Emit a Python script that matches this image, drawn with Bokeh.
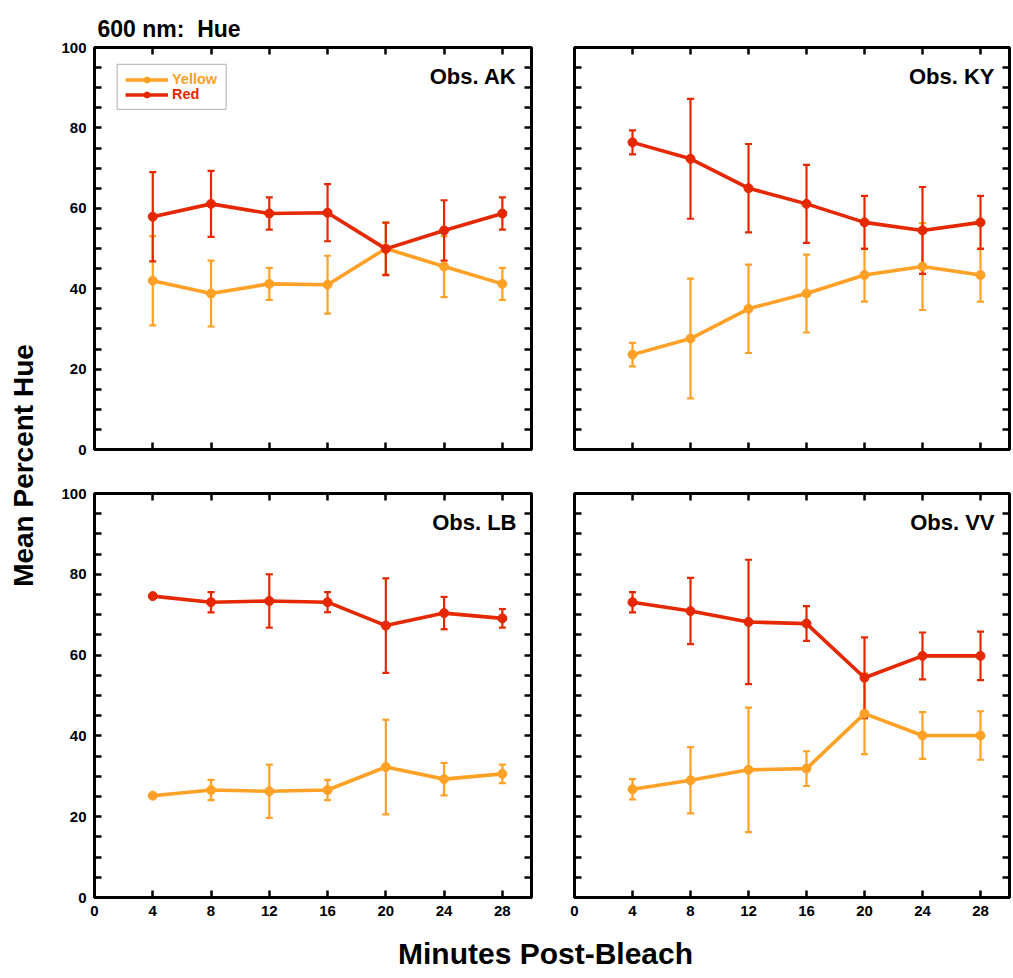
import math
from bokeh.plotting import figure
from bokeh.models import (Range1d, LinearAxis, FixedTicker, Whisker, TeeHead,
                          ColumnDataSource, Label, Legend, LegendItem, BoxAnnotation,
                          CustomLabelingPolicy)
from bokeh.layouts import row, column
from bokeh.embed import file_html
from bokeh.resources import INLINE

# ---------------- data ----------------
minutes = [4, 8, 12, 16, 20, 24, 28]
x_ticks = [0, 4, 8, 12, 16, 20, 24, 28]
y_ticks = [0, 20, 40, 60, 80, 100]
y_minor = [5, 10, 15, 25, 30, 35, 45, 50, 55, 65, 70, 75, 85, 90, 95]

ak_red = [57.9, 61.1, 58.7, 58.9, 49.9, 54.5, 58.7]
ak_red_err = [11.1, 8.2, 4.0, 7.1, 6.5, 7.5, 4.0]
ak_yellow = [42.0, 38.8, 41.2, 41.0, 50.0, 45.5, 41.2]
ak_yellow_err = [11.1, 8.2, 4.0, 7.2, 6.5, 7.6, 4.0]

ky_red = [76.4, 72.3, 65.0, 61.1, 56.5, 54.5, 56.5]
ky_red_err = [3.0, 14.9, 11.0, 9.7, 6.6, 10.8, 6.6]
ky_yellow = [23.6, 27.6, 35.0, 38.8, 43.4, 45.5, 43.4]
ky_yellow_err = [2.9, 14.9, 11.0, 9.7, 6.6, 10.8, 6.6]

lb_red = [74.6, 73.1, 73.4, 73.1, 67.3, 70.4, 69.1]
lb_red_err = [0.0, 2.5, 6.6, 2.5, 11.7, 4.0, 2.3]
lb_yellow = [25.2, 26.6, 26.3, 26.6, 32.3, 29.3, 30.6]
lb_yellow_err = [0.0, 2.5, 6.6, 2.5, 11.7, 4.0, 2.3]

vv_red = [73.1, 70.9, 68.2, 67.8, 54.4, 59.8, 59.8]
vv_red_err = [2.5, 8.2, 15.4, 4.3, 10.0, 5.8, 6.0]
vv_yellow = [26.8, 29.0, 31.6, 31.9, 45.5, 40.1, 40.1]
vv_yellow_err = [2.5, 8.2, 15.4, 4.3, 10.0, 5.8, 6.0]

series_names = ["Yellow", "Red"]
panel_titles = ["Obs. AK", "Obs. KY", "Obs. LB", "Obs. VV"]
main_title = "600 nm:\u00a0 Hue"
x_label = "Minutes Post-Bleach"
y_label = "Mean Percent Hue"

# ---------------- style ----------------
YELLOW = "#FFA126"
RED = "#E52800"
FONT = "Liberation Sans"

HIDE_ALL = "for (const i of indices) { indices.unset(i) }\nreturn indices"


def style_axis(ax, show_labels):
    ax.axis_line_color = "black"
    ax.axis_line_width = 3
    ax.major_tick_in = 7
    ax.major_tick_out = 0
    ax.major_tick_line_width = 2.5
    ax.minor_tick_in = 7
    ax.minor_tick_out = 0
    ax.minor_tick_line_width = 2.5
    if show_labels:
        ax.major_label_text_font = FONT
        ax.major_label_text_font_style = "bold"
        ax.major_label_text_font_size = "15px"
        ax.major_label_text_color = "black"
        ax.major_label_standoff = 8
    else:
        ax.major_label_text_font_size = "0px"
        ax.major_label_standoff = 0
        ax.major_label_policy = CustomLabelingPolicy(code=HIDE_ALL)


def make_series(p, xs, ys, errs, color):
    src = ColumnDataSource(dict(x=xs, y=ys,
                                lo=[v - e for v, e in zip(ys, errs)],
                                up=[v + e for v, e in zip(ys, errs)]))
    w = Whisker(base="x", upper="up", lower="lo", source=src, dimension="height",
                line_color=color, line_width=2.2,
                upper_head=TeeHead(size=7, line_color=color, line_width=2.2),
                lower_head=TeeHead(size=7, line_color=color, line_width=2.2))
    p.add_layout(w)
    ln = p.line("x", "y", source=src, line_color=color, line_width=3.6)
    sc = p.scatter("x", "y", source=src, size=9, fill_color=color, line_color=color)
    return ln, sc


def panel(title, red, red_err, yel, yel_err, left_labels, bottom_labels,
          width, height, bl, br, bt, bb, legend=False):
    p = figure(width=width, height=height, x_range=Range1d(0, 30), y_range=Range1d(0, 100),
               output_backend="svg", toolbar_location=None,
               x_axis_location=None, y_axis_location=None,
               min_border_left=bl, min_border_right=br, min_border_top=bt, min_border_bottom=bb)
    p.grid.visible = False
    p.outline_line_color = "black"
    p.outline_line_width = 3
    p.background_fill_color = "white"
    p.border_fill_color = "white"

    for loc in ["below", "above"]:
        ax = LinearAxis(ticker=FixedTicker(ticks=x_ticks, minor_ticks=[]))
        style_axis(ax, bottom_labels and loc == "below")
        p.add_layout(ax, loc)
    for loc in ["left", "right"]:
        ax = LinearAxis(ticker=FixedTicker(ticks=y_ticks, minor_ticks=y_minor))
        style_axis(ax, left_labels and loc == "left")
        p.add_layout(ax, loc)

    yl, ys = make_series(p, minutes, yel, yel_err, YELLOW)
    rl, rs = make_series(p, minutes, red, red_err, RED)

    p.add_layout(Label(x=30, y=100, x_offset=-15, y_offset=-16, text=title,
                       text_align="right", text_baseline="top",
                       text_font=FONT, text_font_style="bold", text_font_size="22px",
                       text_color="black"))

    if legend:
        for name, rends, color, vy in [(series_names[0], [yl, ys], YELLOW, 362),
                                       (series_names[1], [rl, rs], RED, 347)]:
            lg = Legend(items=[LegendItem(label=name, renderers=rends)],
                        location=(31, vy), margin=0, padding=0, spacing=0,
                        glyph_width=43, glyph_height=15, label_height=15,
                        label_standoff=4,
                        label_text_font=FONT, label_text_font_style="bold",
                        label_text_font_size="14.5px", label_text_color=color,
                        border_line_alpha=0, background_fill_alpha=0)
            p.add_layout(lg)
        p.add_layout(BoxAnnotation(left=1.56, right=9.04, bottom=84.6, top=95.8,
                                   fill_alpha=0, line_color="#333333", line_width=1.3))
    return p


TOP_H = 40

tl = panel(panel_titles[0], ak_red, ak_red_err, ak_yellow, ak_yellow_err, True, False,
           502, 471 - TOP_H, 44, 21, 47 - TOP_H, 22, legend=True)
tr = panel(panel_titles[1], ky_red, ky_red_err, ky_yellow, ky_yellow_err, False, False,
           461, 471 - TOP_H, 22, 4, 47 - TOP_H, 22)
bl = panel(panel_titles[2], lb_red, lb_red_err, lb_yellow, lb_yellow_err, True, True,
           502, 454, 44, 21, 22, 28)
br = panel(panel_titles[3], vv_red, vv_red_err, vv_yellow, vv_yellow_err, False, True,
           461, 454, 22, 4, 22, 28)


def text_fig(w, h):
    f = figure(width=w, height=h, x_range=Range1d(0, w), y_range=Range1d(h, 0),
               output_backend="svg", toolbar_location=None,
               x_axis_location=None, y_axis_location=None, min_border=0)
    f.grid.visible = False
    f.outline_line_color = None
    f.background_fill_color = "white"
    f.border_fill_color = "white"
    return f


titlefig = text_fig(1013, TOP_H)
titlefig.add_layout(Label(x=97, y=28, text=main_title,
                          text_align="left", text_baseline="alphabetic",
                          text_font=FONT, text_font_style="bold", text_font_size="23px",
                          text_color="black"))

ylab = text_fig(50, 925 - TOP_H)
ylab.add_layout(Label(x=23, y=465 - TOP_H, text=y_label, angle=math.pi / 2,
                      text_align="center", text_baseline="middle",
                      text_font=FONT, text_font_style="bold", text_font_size="28px",
                      text_color="black"))
xlab = text_fig(1013, 53)
xlab.add_layout(Label(x=545, y=28, text=x_label,
                      text_align="center", text_baseline="middle",
                      text_font=FONT, text_font_style="bold", text_font_size="30px",
                      text_color="black"))

layout = column(titlefig, row(ylab, column(row(tl, tr), row(bl, br))), xlab)
open("out.html", "w").write(file_html(layout, INLINE))
